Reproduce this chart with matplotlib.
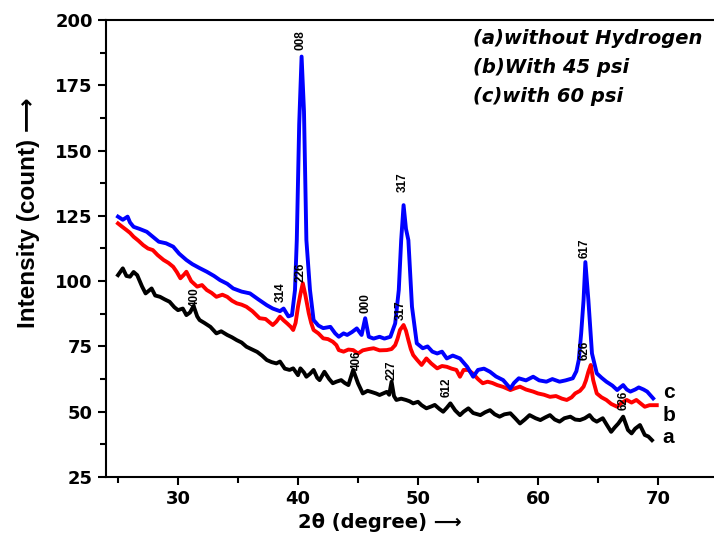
import matplotlib
matplotlib.use("Agg")
import matplotlib.pyplot as plt

plt.rcParams['font.family'] = ['DejaVu Sans']
plt.rcParams['font.weight'] = 'bold'
lib = ['Liberation Sans', 'DejaVu Sans']   # huruf lebih ramping

# data kurva a (tanpa hidrogen)
x_a = [25.0, 25.4, 25.7, 26.0, 26.3, 26.6, 27.0, 27.3, 27.8, 28.1, 28.5, 28.9, 29.3, 29.7, 30.0,
       30.4, 30.7, 31.0, 31.3, 31.6, 31.8, 32.2, 32.7, 33.0, 33.2, 33.6, 34.1, 34.5, 34.9, 35.3,
       35.7, 36.1, 36.6, 37.0, 37.4, 37.8, 38.2, 38.5, 38.9, 39.3, 39.6, 40.0, 40.2, 40.5, 40.7,
       41.0, 41.3, 41.6, 41.8, 42.2, 42.6, 42.9, 43.2, 43.6, 43.9, 44.2, 44.6, 45.0, 45.4, 45.8,
       46.1, 46.5, 46.8, 47.1, 47.4, 47.6, 47.8, 48.0, 48.2, 48.6, 49.0, 49.3, 49.6, 50.0, 50.3,
       50.7, 51.1, 51.4, 51.8, 52.1, 52.4, 52.7, 53.1, 53.5, 53.8, 54.2, 54.6, 55.2, 55.6, 56.0,
       56.4, 56.8, 57.2, 57.7, 58.1, 58.5, 58.9, 59.3, 59.8, 60.2, 60.6, 61.0, 61.4, 61.8, 62.2,
       62.7, 63.1, 63.5, 63.9, 64.3, 64.6, 64.9, 65.2, 65.4, 65.8, 66.1, 66.4, 66.7, 67.1, 67.5,
       67.8, 68.1, 68.5, 68.9, 69.2, 69.5]
y_a = [102.3, 104.9, 102.0, 101.7, 103.5, 102.3, 98.0, 95.3, 97.2, 94.5, 94.0, 93.0, 92.1, 90.0, 88.9,
       89.5, 87.0, 88.0, 90.5, 86.5, 85.1, 84.0, 82.5, 81.0, 80.0, 80.8, 79.4, 78.5, 77.4, 76.5,
       74.9, 74.0, 72.9, 71.5, 69.8, 69.0, 68.5, 69.2, 66.5, 66.0, 66.6, 64.0, 66.6, 65.0, 63.4,
       64.5, 66.0, 63.0, 62.1, 65.3, 62.5, 60.9, 61.5, 62.1, 61.0, 60.2, 66.0, 60.9, 57.0, 58.0,
       57.6, 57.0, 56.4, 57.0, 57.6, 56.5, 61.5, 56.0, 54.5, 55.0, 54.5, 54.0, 53.2, 53.8, 52.5,
       51.3, 52.0, 52.6, 51.0, 50.0, 51.5, 53.2, 50.5, 48.7, 50.0, 51.3, 49.5, 48.7, 49.8, 50.6,
       49.0, 48.1, 49.0, 49.4, 47.5, 45.5, 47.0, 48.7, 47.5, 46.8, 47.8, 48.7, 47.0, 46.2, 47.5,
       48.1, 47.0, 46.8, 47.5, 48.7, 47.0, 46.2, 47.0, 47.5, 44.5, 42.3, 44.0, 45.5, 48.1, 43.0,
       41.7, 43.5, 44.9, 41.1, 40.5, 39.1]

# data kurva b (45 psi)
x_b = [25.0, 25.3, 25.7, 26.0, 26.3, 26.7, 27.1, 27.5, 27.9, 28.3, 28.8, 29.2, 29.6, 29.9, 30.2,
       30.5, 30.7, 31.1, 31.6, 32.0, 32.4, 32.8, 33.2, 33.7, 34.1, 34.5, 34.9, 35.3, 35.7, 36.2,
       36.8, 37.3, 37.9, 38.2, 38.5, 38.8, 39.1, 39.4, 39.6, 39.8, 40.0, 40.2, 40.4, 40.6, 40.9,
       41.1, 41.3, 41.7, 42.1, 42.5, 42.9, 43.2, 43.4, 43.8, 44.2, 44.6, 45.0, 45.4, 45.9, 46.3,
       46.8, 47.4, 47.8, 48.1, 48.3, 48.5, 48.8, 49.0, 49.2, 49.4, 49.6, 49.9, 50.3, 50.7, 51.1,
       51.6, 52.0, 52.4, 52.8, 53.2, 53.5, 53.8, 54.2, 54.6, 55.0, 55.4, 55.8, 56.2, 56.6, 57.1,
       57.7, 58.1, 58.5, 59.0, 59.6, 60.0, 60.5, 61.0, 61.5, 62.0, 62.4, 62.8, 63.1, 63.5, 63.8,
       64.0, 64.2, 64.4, 64.6, 64.9, 65.3, 65.7, 66.1, 66.6, 67.0, 67.4, 67.8, 68.2, 68.6, 68.9,
       69.3, 69.9]
y_b = [122.1, 121.0, 119.6, 118.5, 117.0, 115.5, 113.8, 112.5, 111.9, 110.0, 108.1, 107.0, 105.5, 103.5, 101.1,
       102.5, 103.6, 100.0, 97.9, 98.5, 96.6, 95.5, 94.0, 94.8, 94.0, 92.5, 91.5, 91.0, 90.2, 88.5,
       85.8, 85.5, 83.2, 84.5, 86.4, 85.0, 83.8, 82.5, 81.3, 84.0, 90.2, 95.0, 99.2, 95.0, 87.7,
       84.0, 81.3, 80.0, 78.1, 77.8, 76.8, 75.5, 73.6, 73.0, 73.8, 73.6, 72.3, 73.5, 74.0, 74.3,
       73.5, 73.6, 74.0, 75.5, 78.0, 81.3, 83.2, 81.0, 77.4, 74.0, 71.7, 70.0, 67.9, 70.4, 68.5,
       66.6, 67.5, 67.2, 66.5, 66.0, 63.4, 66.0, 66.0, 64.5, 62.5, 60.9, 61.5, 61.0, 60.2, 59.5,
       58.3, 59.0, 59.6, 58.5, 57.7, 57.0, 56.5, 55.7, 56.0, 55.0, 54.5, 55.5, 57.0, 58.0, 59.6,
       62.0, 65.3, 67.9, 62.1, 57.0, 55.5, 54.5, 53.0, 51.9, 53.5, 54.5, 53.5, 54.5, 53.0, 51.9,
       52.5, 52.5]

# data kurva c (60 psi)
x_c = [25.0, 25.4, 25.8, 26.0, 26.3, 26.8, 27.4, 27.9, 28.4, 29.0, 29.6, 30.1, 30.7, 31.2, 31.8,
       32.4, 33.0, 33.5, 34.1, 34.6, 35.3, 36.0, 36.7, 37.4, 37.9, 38.5, 38.8, 39.2, 39.5, 39.75,
       39.9, 40.1, 40.3, 40.5, 40.7, 41.0, 41.3, 41.7, 42.1, 42.7, 43.1, 43.4, 43.8, 44.1, 44.5,
       44.9, 45.3, 45.6, 45.9, 46.3, 46.8, 47.2, 47.7, 48.1, 48.4, 48.6, 48.8, 49.0, 49.2, 49.5,
       49.9, 50.4, 50.8, 51.2, 51.6, 52.0, 52.4, 52.9, 53.5, 54.1, 54.6, 55.0, 55.5, 56.0, 56.5,
       57.1, 57.7, 58.0, 58.4, 59.0, 59.6, 60.1, 60.7, 61.2, 61.8, 62.3, 62.9, 63.2, 63.4, 63.6,
       63.8, 63.95, 64.2, 64.5, 64.9, 65.3, 65.7, 66.2, 66.6, 67.1, 67.4, 67.7, 68.1, 68.4, 68.8,
       69.1, 69.6]
y_c = [124.7, 123.5, 124.7, 122.5, 120.8, 120.0, 118.9, 117.0, 115.1, 114.5, 113.2, 110.5, 108.1, 106.5, 105.0,
       103.6, 102.0, 100.4, 99.0, 97.2, 96.0, 95.3, 93.0, 90.8, 89.5, 88.5, 89.5, 86.5, 87.0, 96.6,
       115.7, 160.0, 186.0, 165.0, 115.7, 96.6, 85.1, 83.0, 82.0, 82.5, 80.0, 78.7, 80.0, 79.4, 80.5,
       81.9, 79.4, 85.8, 78.7, 78.0, 78.7, 78.0, 78.7, 83.8, 96.6, 115.7, 129.1, 120.0, 115.7, 90.2,
       76.2, 74.3, 75.0, 73.0, 72.3, 73.0, 70.4, 71.5, 70.4, 67.2, 63.4, 66.0, 66.5, 65.3, 63.5,
       62.1, 58.9, 61.0, 62.8, 62.0, 63.4, 62.0, 61.5, 62.5, 61.5, 62.0, 62.8, 65.5, 69.8, 80.0,
       92.8, 107.3, 92.8, 72.3, 64.7, 63.0, 61.5, 60.0, 58.3, 60.2, 58.5, 57.7, 58.5, 59.3, 58.5,
       57.7, 55.1]

# label puncak (teks, posisi 2theta, intensitas bawah teks)
peak_text = ['008', '317', '617', '314', '226', '000', '317', '400', '406', '227', '612', '626', '626']
peak_x = [40.2, 48.7, 63.9, 38.6, 40.2, 45.6, 48.6, 31.4, 44.9, 47.8, 52.4, 63.9, 67.1]
peak_y = [188.5, 134.0, 108.8, 92.0, 99.7, 87.8, 85.0, 90.0, 66.0, 62.1, 55.6, 69.8, 50.6]

legend_lines = ['(a)without Hydrogen', '(b)With 45 psi', '(c)with 60 psi']
curve_names = ['a', 'b', 'c']
curve_name_y = [40.3, 48.7, 57.5]

# kanvas 714x540
fig = plt.figure(figsize=(7.14, 5.4), dpi=100)
ax = fig.add_axes([106 / 714, 1 - 477 / 540, 608 / 714, 457 / 540])

ax.plot(x_a, y_a, color='black', lw=2.8)
ax.plot(x_b, y_b, color='red', lw=2.8)
ax.plot(x_c, y_c, color='blue', lw=2.8)

ax.set_xlim(24.0, 74.67)
ax.set_ylim(25, 200)

# sumbu
ax.set_xticks([30, 40, 50, 60, 70])
ax.set_xticks([25, 35, 45, 55, 65], minor=True)
ax.set_yticks([25, 50, 75, 100, 125, 150, 175, 200])
ax.set_yticks([37.5, 62.5, 87.5, 112.5, 137.5, 162.5, 187.5], minor=True)
ax.tick_params(which='both', direction='out', width=1.5, top=False, right=False)
ax.tick_params(which='major', length=6, labelsize=13)
ax.tick_params(which='minor', length=4)
for lbl in ax.get_xticklabels() + ax.get_yticklabels():
    lbl.set_fontweight('bold')
ax.spines['right'].set_visible(False)
for s in ['left', 'bottom', 'top']:
    ax.spines[s].set_linewidth(1.5)

# label puncak vertikal
for t, px, py in zip(peak_text, peak_x, peak_y):
    ax.text(px, py, t, rotation=90, ha='center', va='bottom', fontsize=8.5,
            fontweight='bold', family=lib)

# nama kurva a b c
for n, ny in zip(curve_names, curve_name_y):
    ax.text(70.4, ny, n, ha='left', va='center', fontsize=15, fontweight='bold', family=lib)

# keterangan
for i, s in enumerate(legend_lines):
    fig.text(473 / 714, 1 - (39 + i * 28.5) / 540, s, ha='left', va='center',
             fontsize=14, fontweight='bold', style='italic')

# judul sumbu
fig.text(29 / 714, 1 - 213 / 540, 'Intensity (count) \u27f6', rotation=90, ha='center', va='center',
         fontsize=17.5, fontweight='bold', family=lib)
fig.text(380 / 714, 1 - 523 / 540, '2\u03b8 (degree) \u27f6', ha='center', va='center',
         fontsize=14, fontweight='bold')

plt.savefig('out.png', dpi=100)
